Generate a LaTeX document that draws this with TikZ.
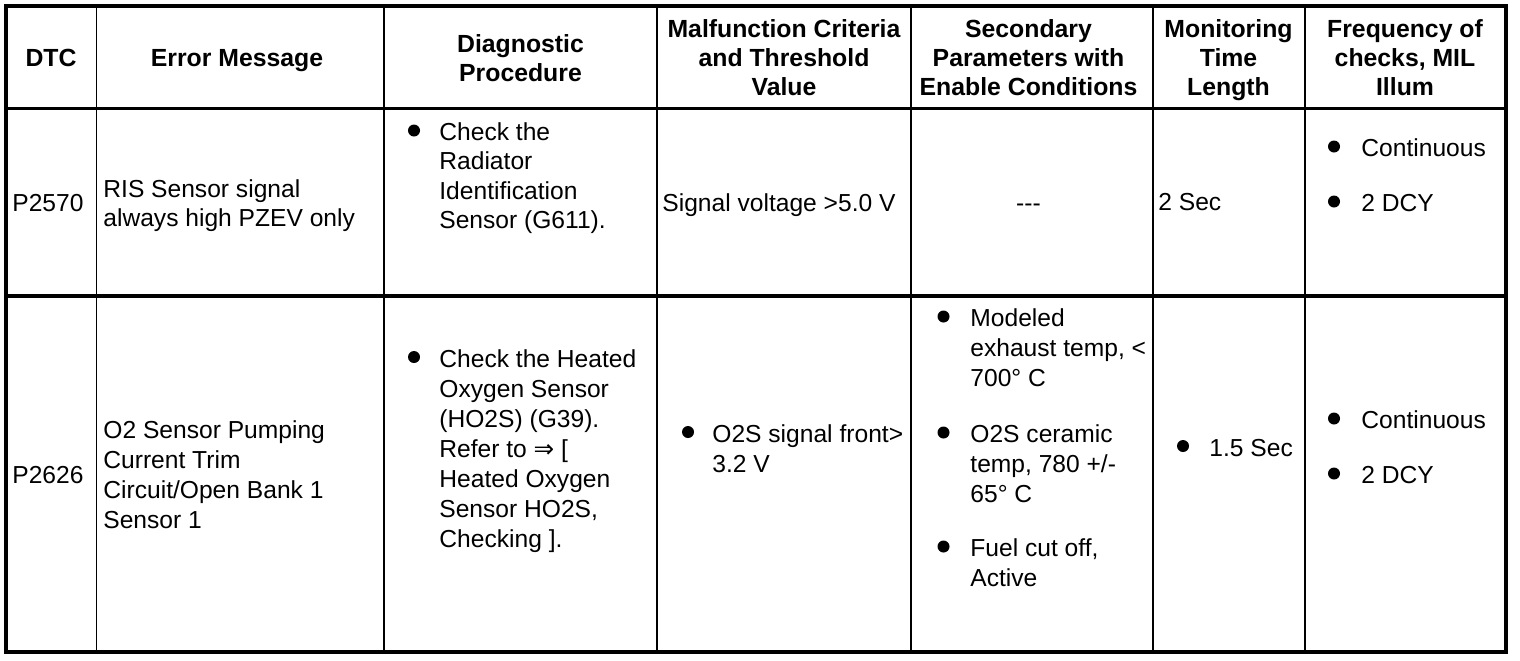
\documentclass[tikz,border=0pt]{standalone}
\usepackage{fontspec}
\setmainfont{Liberation Sans}
\newfontfamily\symfont{DejaVu Sans}
\newcommand\cellL[1]{\begin{tabular}[t]{@{}l@{}}#1\end{tabular}}
\newcommand\cellC[1]{\begin{tabular}[t]{@{}c@{}}#1\end{tabular}}
\begin{document}
\begin{tikzpicture}[x=0.5pt,y=-0.5pt,
  hd/.style={inner sep=0pt, anchor=base, font=\bfseries\fontsize{12.4}{14.5}\selectfont},
  ra/.style={inner sep=0pt, anchor=base west, font=\fontsize{12.3}{14.8}\selectfont},
  rb/.style={inner sep=0pt, anchor=base west, font=\fontsize{12.3}{15}\selectfont},
  rac/.style={inner sep=0pt, anchor=base, font=\fontsize{12.3}{14.8}\selectfont},
  bul/.style={circle, fill=black, inner sep=0pt, minimum size=6pt},
  vline/.style={line width=0.7pt},
  hline/.style={line width=1.6pt},
  frame/.style={line width=2pt}]
\useasboundingbox (0,0) rectangle (1520,660);
\fill[white] (0,0) rectangle (1520,660);
% grid
\foreach \x in {96.5,384,657,911,1153,1305}
  \draw[vline] (\x,5.5) -- (\x,652);
\draw[hline] (6,108.5) -- (1506,108.5);
\draw[hline] (6,296) -- (1506,296);
\draw[frame] (6,5.5) rectangle (1506,652);
% header
\node[hd] (h1) at (51,66.5) {DTC};
\node[hd] (h2) at (237,66.5) {Error Message};
\node[hd] (h3) at (520.5,52) {\cellC{Diagnostic\\Procedure}};
\node[hd] (h4) at (784,37.5) {\cellC{Malfunction Criteria\\and Threshold\\Value}};
\node[hd] (h5) at (1028.5,37.5) {\cellC{Secondary\\Parameters with\\Enable Conditions}};
\node[hd] (h6) at (1228.5,37.5) {\cellC{Monitoring\\Time\\Length}};
\node[hd] (h7) at (1405,37.5) {\cellC{Frequency of\\checks, MIL\\Illum}};
% row 1
\node[ra] (a1) at (12,211) {P2570};
\node[ra] (a2) at (103,197) {\cellL{RIS Sensor signal\\always high PZEV only}};
\node[bul] (a3b) at (414,130.5) {};
\node[ra] (a3) at (439,140) {\cellL{Check the\\Radiator\\Identification\\Sensor (G611).}};
\node[ra] (a4) at (662,211) {Signal voltage >5.0 V};
\node[rac] (a5) at (1028.5,211) {-{}-{}-};
\node[ra] (a6) at (1158,210.5) {2 Sec};
\node[bul] (a7b1) at (1334,146.5) {};
\node[ra] (a7a) at (1361,156) {Continuous};
\node[bul] (a7b2) at (1334,201.5) {};
\node[ra] (a7c) at (1361,211) {2 DCY};
% row 2
\node[rb] (b1) at (12,483) {P2626};
\node[rb] (b2) at (103,438) {\cellL{O2 Sensor Pumping\\Current Trim\\Circuit/Open Bank 1\\Sensor 1}};
\node[bul] (b3b) at (414,357) {};
\node[rb] (b3) at (439,367) {\cellL{Check the Heated\\Oxygen Sensor\\(HO2S) (G39).\\Refer to {\symfont ⇒} [\\Heated Oxygen\\Sensor HO2S,\\Checking ].}};
\node[bul] (b4b) at (688,432) {};
\node[rb] (b4) at (712,442) {\cellL{O2S signal front>\\3.2 V}};
\node[bul] (b5b1) at (943.5,316.5) {};
\node[rb] (b5a) at (970,326.5) {\cellL{Modeled\\exhaust temp, <\\700° C}};
\node[bul] (b5b2) at (943.5,432.5) {};
\node[rb] (b5c) at (970,442.5) {\cellL{O2S ceramic\\temp, 780 +/-\\65° C}};
\node[bul] (b5b3) at (943.5,546.5) {};
\node[rb] (b5d) at (970,556.5) {\cellL{Fuel cut off,\\Active}};
\node[bul] (b6b) at (1183,446) {};
\node[rb] (b6) at (1209,456) {1.5 Sec};
\node[bul] (b7b1) at (1334,418.5) {};
\node[rb] (b7a) at (1361,428.5) {Continuous};
\node[bul] (b7b2) at (1334,473.5) {};
\node[rb] (b7c) at (1361,483.5) {2 DCY};
\end{tikzpicture}
\end{document}
